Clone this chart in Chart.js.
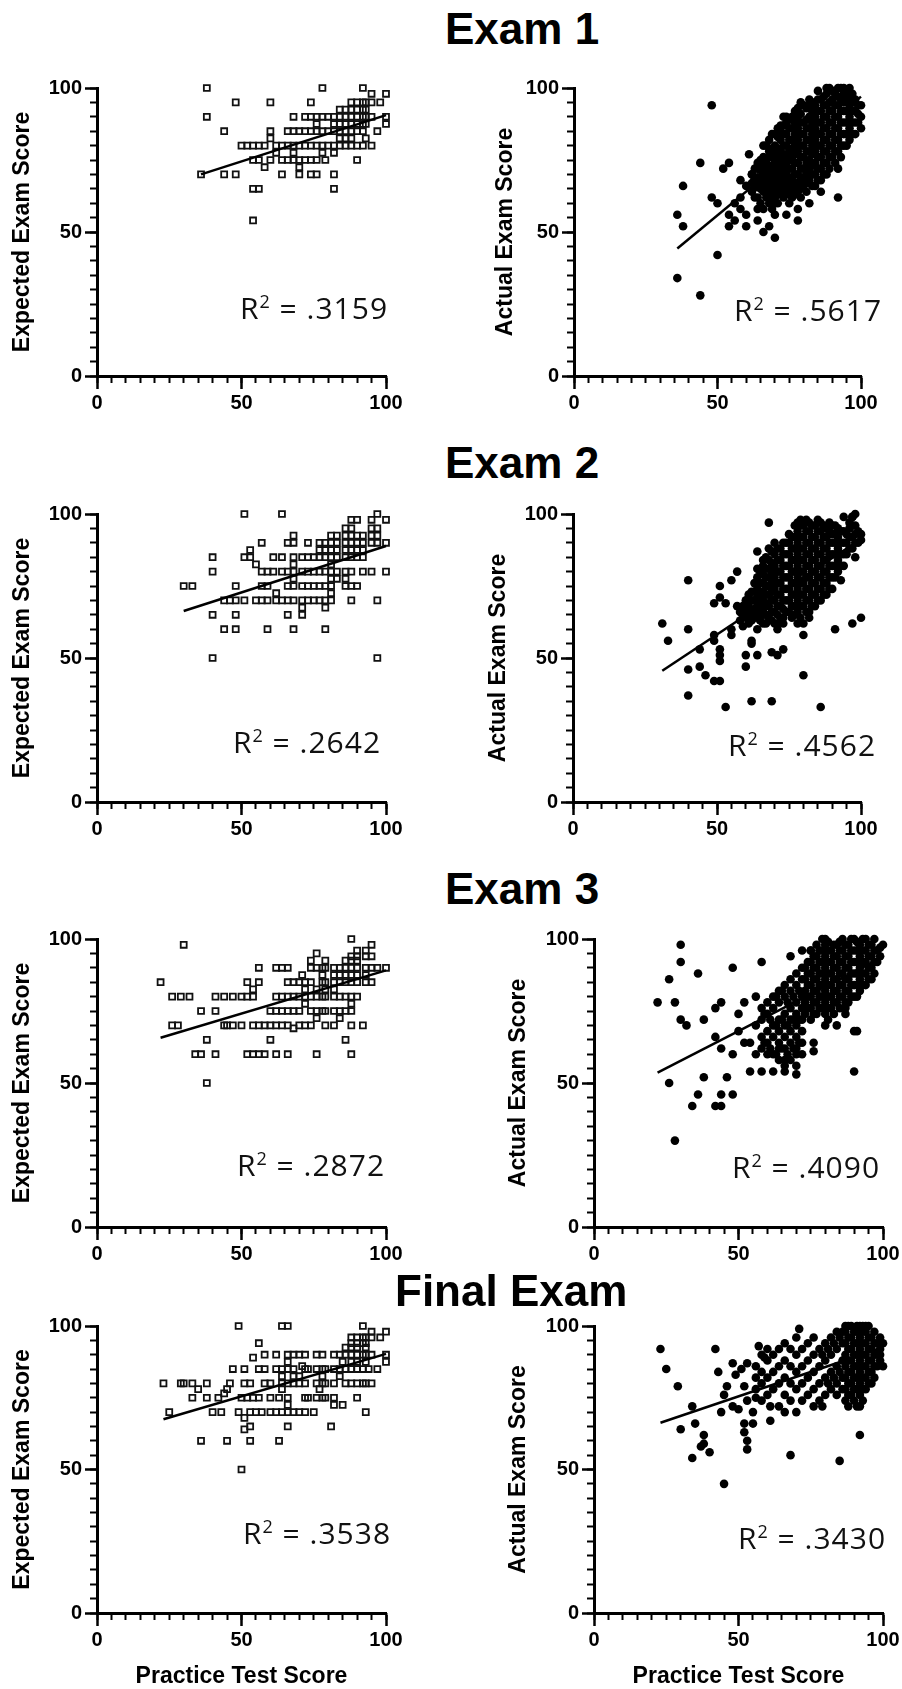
<!DOCTYPE html>
<html>
<head>
<meta charset="utf-8">
<script src="https://cdn.jsdelivr.net/npm/chart.js@4.4.0/dist/chart.umd.min.js"></script>
<style>
  body { margin: 0; background: #fff; }
  #page { position: relative; width: 902px; height: 1689px; overflow: hidden; background: #fff; }
  .panel { position: absolute; }
  .title { position: absolute; font: bold 44px "Liberation Sans", Arial, sans-serif; line-height: 44px; white-space: nowrap; color: #000; z-index: 2; }
  .rsq { position: absolute; font: 30px "Open Sans", sans-serif; line-height: 30px; letter-spacing: 1px; white-space: nowrap; color: #111; z-index: 2; }
  .rsq sup { font-size: 0.6em; line-height: 0; vertical-align: 0.62em; }
</style>
</head>
<body>
<div id="page"></div>
<script>
// ---- data ----
// left panels: [expected score, [practice scores...]]
const exam1ExpectedRows = [
  [100, [38, 78, 92]],
  [98, [95, 100]],
  [95, [48, 60, 74, 88, 90, 92, 93, 95, 98]],
  [92.5, [84, 86, 88, 90, 92, 93]],
  [90, [38, 68, 72, 74, 76, 78, 80, 82, 84, 86, 88, 90, 92, 93, 95, 100]],
  [87.5, [76, 82, 84, 86, 88, 90, 92, 93, 100]],
  [85, [44, 60, 66, 68, 70, 72, 74, 76, 78, 80, 82, 84, 86, 88, 90, 92, 97]],
  [82.5, [60, 84, 86, 88, 93]],
  [80, [50, 52, 54, 56, 58, 62, 64, 66, 68, 70, 72, 74, 76, 78, 80, 82, 84, 86, 88, 90, 92, 95]],
  [77.5, [62, 68, 78, 82]],
  [75, [54, 56, 60, 64, 66, 68, 70, 72, 74, 76, 79, 90]],
  [72.5, [58, 70]],
  [70, [36, 44, 48, 64, 70, 74, 76, 82]],
  [65, [54, 56, 82]],
  [54, [54]]
];
const exam2ExpectedRows = [
  [100, [51, 64, 97]],
  [98, [88, 90, 95, 100]],
  [95, [86, 88, 95, 97]],
  [92.5, [68, 81, 83, 86, 88, 90, 92, 95, 97]],
  [90, [57, 66, 68, 73, 77, 79, 81, 83, 86, 88, 90, 92, 95, 97, 100]],
  [87.5, [53, 77, 79, 81, 83, 86, 88, 90, 92]],
  [85, [40, 51, 53, 61, 64, 68, 71, 73, 75, 77, 79, 81, 83, 86, 88, 90, 92]],
  [82.5, [55, 68, 81]],
  [80, [40, 57, 59, 61, 64, 66, 68, 71, 73, 75, 77, 79, 81, 83, 86, 88, 92, 95, 100]],
  [77.5, [68, 81, 83, 86]],
  [75, [30, 33, 48, 57, 59, 66, 68, 71, 73, 75, 77, 79, 81, 86, 88, 90]],
  [72.5, [62, 81]],
  [70, [44, 46, 48, 51, 55, 57, 59, 62, 64, 66, 68, 71, 73, 75, 77, 79, 81, 88, 97]],
  [67.5, [71, 79]],
  [65, [40, 48, 66, 71]],
  [60, [44, 48, 59, 68, 79]],
  [50, [40, 97]]
];
const exam3ExpectedRows = [
  [100, [88]],
  [98, [30, 95]],
  [96, [90, 93]],
  [95, [76]],
  [94, [88, 90, 93, 95]],
  [92.5, [74, 79, 86, 88, 90]],
  [90, [56, 62, 64, 66, 74, 76, 78, 79, 82, 84, 86, 88, 90, 93, 95, 97, 100]],
  [87.5, [71, 78, 82, 84, 86, 88, 90, 93]],
  [85, [22, 52, 56, 66, 68, 70, 72, 74, 78, 79, 82, 84, 86, 88, 90, 93, 95]],
  [82.5, [54, 72, 76, 79, 82]],
  [80, [26, 29, 32, 41, 44, 47, 50, 52, 54, 62, 64, 66, 68, 70, 72, 74, 76, 78, 79, 82, 84, 86, 88, 90]],
  [77.5, [72, 88]],
  [75, [36, 41, 60, 62, 64, 66, 68, 70, 74, 76, 78, 79, 82, 84, 86, 88]],
  [72.5, [76, 84]],
  [70, [26, 28, 44, 45, 47, 50, 54, 56, 58, 60, 62, 64, 66, 70, 72, 74, 79, 82, 88, 92]],
  [69, [68]],
  [65, [38, 60, 86]],
  [60, [34, 36, 41, 52, 54, 56, 58, 62, 66, 76, 88]],
  [50, [38]]
];
const finalExpectedRows = [
  [100, [49, 64, 66, 92]],
  [98, [95, 100]],
  [96, [88, 90, 92, 93, 95, 98]],
  [94, [56, 88, 90, 92, 93]],
  [92.5, [86, 88, 90, 93]],
  [90, [58, 62, 66, 68, 70, 72, 76, 78, 82, 84, 86, 88, 90, 92, 93, 95, 100]],
  [89, [54]],
  [87.5, [66, 85, 88, 90, 93, 100]],
  [86, [71]],
  [85, [47, 51, 56, 58, 62, 64, 66, 68, 72, 73, 76, 78, 79, 82, 84, 86, 88, 90, 92, 94, 97]],
  [82.5, [64, 68, 70, 78, 84]],
  [80, [23, 29, 30, 33, 38, 46, 51, 53, 58, 60, 64, 66, 68, 70, 72, 76, 78, 79, 82, 86, 88, 90, 92, 93, 95]],
  [78, [35, 45, 64, 77]],
  [76.5, [44]],
  [75, [33, 38, 42, 50, 52, 54, 56, 60, 63, 66, 72, 73, 76, 78, 79, 82, 90]],
  [72.5, [66, 82, 85]],
  [70, [25, 40, 43, 49, 53, 55, 57, 60, 62, 64, 66, 68, 70, 72, 75, 93]],
  [68, [51]],
  [65, [53, 66, 81]],
  [64, [51]],
  [60, [36, 45, 53, 63]],
  [50, [50]]
];

// right panels: scattered points [practice, actual] and the dense cloud [practice, [actual...]]
const exam1ActualOut = [[48,94],[44,74],[38,66],[36,56],[38,52],[36,34],[44,28],[50,42],[48,62],[50,60],[52,72],[54,74],[54,56],[54,52],[56,54],[56,60],[58,58],[58,62],[60,56],[60,52],[58,68],[60,66],[61,77],[64,74],[62,70],[64,58],[64,54],[66,58],[66,50],[68,52],[70,48],[68,62],[70,60],[74,56],[78,58],[78,54],[70,56],[66,80],[68,76],[70,84],[74,90],[72,87],[80,94],[82,94],[88,100],[92,100],[94,100],[86,68],[86,64],[82,60],[92,72],[92,62],[100,86],[100,90],[100,94]];
const exam1ActualCloud = [
  [62, [64, 67, 70]], [63, [62, 65.5, 68.5, 72]], [64, [62, 66, 69, 72]], [65, [60, 65, 68, 71.5, 75]],
  [66, [64, 67, 70, 73, 76]], [67, [62, 65.5, 69, 72, 75, 80]],
  [68, [60, 64, 67, 70, 73, 78, 82]], [69, [58, 63, 66, 69.5, 72, 76, 79, 84]],
  [70, [62, 65, 68, 71, 74, 77, 80]], [71, [60, 64, 67, 70, 73, 76, 79, 83, 86]],
  [72, [63, 66, 69, 72, 75, 78, 82, 85]], [73, [62, 65, 68, 71, 74, 77, 80, 84, 87, 90]],
  [74, [64, 67, 70, 73, 76, 80, 84, 88]], [75, [60, 63, 66, 69, 72, 75, 78, 82, 86, 89]],
  [76, [62, 65, 68, 72, 76, 79, 82, 86, 90]], [77, [63, 66, 70, 74, 77, 80, 84, 88, 92]],
  [78, [64, 67, 70, 74, 78, 82, 86, 90, 93]], [79, [62, 65, 68, 72, 76, 80, 84, 88, 91, 95]],
  [80, [66, 69, 72, 76, 80, 84, 88]], [81, [64, 67, 70, 74, 78, 82, 86, 89, 93]],
  [82, [68, 72, 75, 78, 82, 86, 90, 96]], [83, [66, 70, 73, 77, 80, 84, 88, 92, 95]],
  [84, [66, 70, 74, 78, 82, 86, 90, 94]], [85, [68, 72, 76, 80, 84, 88, 92, 96, 99]],
  [86, [72, 76, 80, 84, 88, 92, 96]], [87, [70, 74, 78, 82, 86, 90, 94, 97]],
  [88, [70, 74, 78, 82, 86, 90, 94, 98]], [89, [72, 76, 80, 84, 88, 92, 95, 100]],
  [90, [76, 80, 84, 88, 92, 96, 99]], [91, [74, 78, 82, 86, 90, 94, 98]],
  [92, [78, 82, 86, 90, 94, 97]], [93, [76, 80, 84, 88, 92, 96, 100]],
  [94, [80, 84, 88, 92, 95, 98]], [95, [80, 84, 88, 92, 96, 99]],
  [96, [82, 86, 90, 94, 97, 100]], [97, [84, 88, 92, 95, 98]],
  [98, [84, 88, 92, 96]], [99, [88, 91, 94]]
];
const exam2ActualOut = [[31,62],[33,56],[40,77],[40,60],[40,46],[40,37],[44,53],[44,47],[46,44],[49,42],[51,42],[49,58],[49,56],[51,53],[51,51],[51,49],[49,69],[51,75],[53,69],[51,71],[53,33],[55,77],[57,80],[57,68],[55,60],[55,58],[60,47],[60,51],[62,35],[62,56],[62,55],[64,51],[64,60],[64,87],[66,84],[66,65],[68,97],[68,88],[69,35],[69,52],[71,51],[73,53],[73,62],[71,60],[80,44],[80,58],[82,64],[78,62],[86,33],[91,60],[97,62],[100,64],[93,77],[94,99],[97,99],[96,97],[98,85],[100,91],[100,93]];
const exam2ActualCloud = [
  [58, [63, 66]], [59, [61, 65, 68]], [60, [64, 67, 70]], [61, [62, 65, 68, 72]],
  [62, [63, 66, 70, 73]], [63, [64, 67, 70, 73, 76]],
  [64, [65, 68, 71, 74, 78, 81]], [65, [63, 66, 69, 72, 76, 80]],
  [66, [62, 67, 70, 73, 76, 79, 82]], [67, [62, 65, 69, 72, 75, 78, 81, 85]],
  [68, [64, 68, 72, 75, 78, 81, 84]], [69, [63, 66, 70, 73, 76, 80, 83, 87]],
  [70, [62, 66, 70, 74, 78, 82, 86, 90]], [71, [62, 65, 68, 72, 76, 80, 84, 88]],
  [72, [64, 68, 72, 76, 80, 84, 88]], [73, [64, 67, 70, 74, 78, 82, 86, 90]],
  [74, [66, 70, 74, 78, 82, 86, 90]], [75, [66, 70, 74, 78, 82, 86, 90, 93]],
  [76, [64, 68, 72, 76, 80, 84, 88, 92]], [77, [65, 68, 72, 76, 80, 84, 88, 92, 96]],
  [78, [66, 70, 74, 78, 82, 86, 90, 94, 97]], [79, [64, 68, 72, 76, 80, 84, 88, 92, 96, 98]],
  [80, [62, 68, 72, 76, 80, 84, 88, 92, 96]], [81, [66, 70, 74, 78, 82, 86, 90, 94, 98]],
  [82, [66, 70, 74, 78, 82, 86, 90, 94, 97]], [83, [68, 72, 76, 80, 84, 88, 92, 96]],
  [84, [68, 72, 76, 80, 84, 88, 92, 96]], [85, [70, 74, 78, 82, 86, 90, 94, 98]],
  [86, [70, 74, 78, 82, 86, 90, 94, 97]], [87, [72, 76, 80, 84, 88, 92, 96]],
  [88, [72, 76, 80, 84, 88, 92, 95]], [89, [74, 78, 82, 86, 90, 94, 97]],
  [90, [74, 78, 82, 86, 90, 93, 96]], [91, [78, 82, 86, 90, 93, 96]],
  [92, [80, 84, 88, 92, 95]], [93, [82, 86, 90, 94]], [94, [82, 86, 90, 94]],
  [95, [86, 90, 93]], [96, [88, 92, 95]], [97, [88, 92, 96, 99]], [98, [90, 93, 96, 100]], [99, [90, 94]]
];
const exam3ActualOut = [[22,78],[26,86],[26,50],[28,78],[28,30],[30,98],[30,92],[30,72],[32,70],[36,88],[38,72],[38,52],[36,46],[34,42],[42,66],[42,76],[44,78],[44,62],[42,42],[44,42],[44,46],[46,52],[48,46],[48,60],[48,90],[50,74],[50,68],[52,78],[52,64],[54,64],[54,54],[56,60],[58,92],[58,54],[56,80],[56,70],[60,60],[62,54],[66,54],[70,53],[70,60],[66,58],[64,64],[68,94],[76,64],[76,61],[80,70],[84,70],[87,76],[87,74],[90,68],[91,68],[90,54],[80,100],[94,100],[100,98],[72,96],[75,96]];
const exam3ActualCloud = [
  [58, [62, 66, 72, 76]], [59, [64, 74]], [60, [64, 68, 74, 78]], [61, [62, 72]],
  [62, [60, 66, 70, 76, 80]], [63, [60, 70, 80]],
  [64, [58, 62, 68, 72, 78, 82]], [65, [62, 72, 82]],
  [66, [56, 62, 66, 70, 74, 80, 84]], [67, [60, 70, 78]],
  [68, [58, 64, 68, 72, 76, 82, 86]], [69, [62, 72, 80]],
  [70, [56, 62, 66, 70, 74, 78, 84, 88]], [71, [64, 72, 82]],
  [72, [60, 64, 68, 72, 76, 80, 86, 90]], [73, [74, 78, 82, 86, 90]],
  [74, [76, 80, 84, 88, 92]], [75, [72, 76, 80, 84, 88, 92, 96]],
  [76, [74, 78, 82, 86, 90, 94]], [77, [74, 78, 82, 86, 90, 94, 98]],
  [78, [76, 80, 84, 88, 92, 96]], [79, [76, 80, 84, 88, 92, 96, 100]],
  [80, [74, 78, 82, 86, 90, 94, 98]], [81, [72, 76, 80, 84, 88, 92, 96, 99]],
  [82, [76, 80, 84, 88, 92, 96]], [83, [74, 78, 82, 86, 90, 94, 98]],
  [84, [78, 82, 86, 90, 94, 98]], [85, [76, 80, 84, 88, 92, 96, 99]],
  [86, [80, 84, 88, 92, 96, 100]], [87, [78, 82, 86, 90, 94, 98]],
  [88, [78, 82, 86, 90, 94, 98]], [89, [80, 84, 88, 92, 96, 100]],
  [90, [80, 84, 88, 92, 96, 100]], [91, [80, 84, 88, 92, 96, 99]],
  [92, [82, 86, 90, 94, 98]], [93, [84, 88, 92, 96, 100]],
  [94, [84, 88, 92, 96]], [95, [86, 90, 94, 98]], [96, [86, 90, 94, 98]],
  [97, [88, 92, 96, 100]], [98, [92, 96]], [99, [94, 97]]
];
const finalActualOut = [[23,92],[25,85],[29,79],[30,64],[34,72],[34,54],[35,66],[38,62],[37,58],[38,59],[40,56],[42,92],[43,84],[44,70],[45,45],[45,76],[46,79],[48,87],[49,83],[48,72],[50,71],[51,85],[53,87],[52,66],[52,79],[52,63],[53,60],[53,57],[55,66],[55,70],[53,74],[56,75],[57,93],[59,89],[61,67],[61,72],[68,55],[71,99],[85,53],[92,62],[88,72],[92,72],[100,86],[99,90],[100,94],[87,100],[91,100],[94,100]];
const finalActualCloud = [
  [56, [78, 82, 86]], [58, [74, 80, 84, 90]], [60, [76, 82, 88, 92]], [62, [78, 84, 90]],
  [64, [72, 80, 86, 92]], [66, [70, 76, 82, 88, 94]], [68, [74, 80, 86, 92]],
  [70, [70, 78, 84, 90, 96]], [72, [74, 80, 86, 92]], [74, [76, 82, 88, 94]],
  [76, [72, 78, 84, 90, 96]], [78, [74, 80, 86, 92]], [79, [72, 90]], [80, [76, 82, 88, 94]],
  [81, [80, 92]], [82, [78, 84, 90, 96]], [83, [82, 94]], [84, [76, 80, 86, 92, 98]], [85, [84, 96]],
  [86, [78, 82, 88, 94, 98]], [87, [74, 78, 82, 86, 90, 94, 98]],
  [88, [76, 80, 84, 88, 92, 96, 100]], [89, [76, 80, 84, 88, 92, 96, 100]],
  [90, [74, 78, 82, 86, 90, 94, 98]], [91, [72, 78, 82, 86, 90, 94, 98]],
  [92, [76, 80, 84, 88, 92, 96, 100]], [93, [74, 78, 82, 86, 90, 94, 98, 100]],
  [94, [78, 82, 86, 90, 94, 98]], [95, [80, 84, 88, 92, 96, 100]],
  [96, [80, 84, 88, 92, 96]], [97, [82, 86, 90, 94, 98]], [98, [86, 90, 94]], [99, [88, 92, 96]]
];

// regression lines, end points [x, y]
const exam1ExpectedFit = [[36, 70], [100, 90.6]];
const exam1ActualFit = [[36, 44.3], [100, 97]];
const exam2ExpectedFit = [[30, 66.3], [100, 88.9]];
const exam2ActualFit = [[31, 45.6], [100, 91.3]];
const exam3ExpectedFit = [[22, 65.7], [100, 89.1]];
const exam3ActualFit = [[22, 53.6], [100, 93.8]];
const finalExpectedFit = [[23, 67.5], [100, 90.3]];
const finalActualFit = [[23, 66.3], [100, 92.5]];

const examTitles = ['Exam 1', 'Exam 2', 'Exam 3', 'Final Exam'];
const rSquared = ['.3159', '.5617', '.2642', '.4562', '.2872', '.4090', '.3538', '.3430'];

// ---- helpers ----
function fromRows(rows) {
  const out = [];
  rows.forEach(r => r[1].forEach(x => out.push({x: x, y: r[0]})));
  return out;
}
function fromCols(out, cols) {
  const pts = out.map(p => ({x: p[0], y: p[1]}));
  cols.forEach(c => c[1].forEach(y => pts.push({x: c[0], y: y})));
  return pts;
}
function pairs(arr) {
  return arr.map(p => ({x: p[0], y: p[1]}));
}

const page = document.getElementById('page');
const FONT = '"Liberation Sans", Arial, sans-serif';

// plot box positions (left/top of the axes area, in page pixels)
const panels = [
  {pts: fromRows(exam1ExpectedRows), fit: exam1ExpectedFit, open: true, yTitle: 'Expected Exam Score', left: 97, top: 88, w: 289, h: 288, yW: 97, titleX: 23, r2: [240, 298]},
  {pts: fromCols(exam1ActualOut, exam1ActualCloud), fit: exam1ActualFit, open: false, yTitle: 'Actual Exam Score', left: 574, top: 88, w: 287, h: 288, yW: 90, titleX: 506, r2: [734, 300]},
  {pts: fromRows(exam2ExpectedRows), fit: exam2ExpectedFit, open: true, yTitle: 'Expected Exam Score', left: 97, top: 514, w: 289, h: 288, yW: 97, titleX: 23, r2: [233, 732]},
  {pts: fromCols(exam2ActualOut, exam2ActualCloud), fit: exam2ActualFit, open: false, yTitle: 'Actual Exam Score', left: 573, top: 514, w: 288, h: 288, yW: 90, titleX: 499, r2: [728, 735]},
  {pts: fromRows(exam3ExpectedRows), fit: exam3ExpectedFit, open: true, yTitle: 'Expected Exam Score', left: 97, top: 939, w: 289, h: 288, yW: 97, titleX: 23, r2: [237, 1155]},
  {pts: fromCols(exam3ActualOut, exam3ActualCloud), fit: exam3ActualFit, open: false, yTitle: 'Actual Exam Score', left: 594, top: 939, w: 289, h: 288, yW: 90, titleX: 519, r2: [732, 1157]},
  {pts: fromRows(finalExpectedRows), fit: finalExpectedFit, open: true, yTitle: 'Expected Exam Score', left: 97, top: 1326, w: 289, h: 287, yW: 97, titleX: 23, r2: [243, 1523], xTitle: true},
  {pts: fromCols(finalActualOut, finalActualCloud), fit: finalActualFit, open: false, yTitle: 'Actual Exam Score', left: 594, top: 1326, w: 289, h: 287, yW: 90, titleX: 519, r2: [738, 1528], xTitle: true}
];

// title positions [left, cap top]
const titlePos = [[445, 13], [445, 447], [445, 873], [395, 1275]];

function axisSet(p, xH) {
  const tickFont = {family: FONT, size: 20, weight: 'bold'};
  return {
    x: {
      type: 'linear', position: 'bottom', min: 0, max: 100, weight: 1,
      border: {color: '#000', width: 3},
      grid: {drawOnChartArea: false, tickLength: 13, tickWidth: 2.5, tickColor: '#000'},
      ticks: {stepSize: 50, padding: 2, color: '#000', font: tickFont, maxRotation: 0, autoSkip: false},
      title: {display: !!p.xTitle, text: 'Practice Test Score', color: '#000',
              font: {family: FONT, size: 23, weight: 'bold', lineHeight: 1}, padding: {top: 0, bottom: 0}},
      afterFit: s => { s.height = xH; s.paddingLeft = 0; s.paddingRight = 0; }
    },
    xMinor: {
      type: 'linear', position: 'bottom', min: 0, max: 100, weight: 0,
      border: {display: false},
      grid: {drawOnChartArea: false, tickLength: 7, tickWidth: 2, tickColor: '#000'},
      ticks: {stepSize: 5, display: false},
      afterFit: s => { s.height = 0; s.paddingLeft = 0; s.paddingRight = 0; }
    },
    y: {
      type: 'linear', position: 'left', min: 0, max: 100, weight: 1,
      border: {color: '#000', width: 3},
      grid: {drawOnChartArea: false, tickLength: 12, tickWidth: 2.5, tickColor: '#000'},
      ticks: {stepSize: 50, padding: 3, color: '#000', font: tickFont},
      title: {display: true, text: p.yTitle, color: '#000',
              font: {family: FONT, size: 23, weight: 'bold', lineHeight: 1},
              padding: {top: p.titleX - (p.left - p.yW) - 11.5, bottom: 0}},
      afterFit: s => { s.width = p.yW; s.paddingTop = 0; s.paddingBottom = 0; }
    },
    yMinor: {
      type: 'linear', position: 'left', min: 0, max: 100, weight: 0,
      border: {display: false},
      grid: {drawOnChartArea: false, tickLength: 7, tickWidth: 2, tickColor: '#000'},
      ticks: {stepSize: 5, display: false},
      afterFit: s => { s.width = 0; s.paddingTop = 0; s.paddingBottom = 0; }
    }
  };
}

function draw(p, i) {
  const padTop = 20;
  const padRight = p.yW === 97 ? 25 : 18;
  const xH = p.xTitle ? 75 : 40;
  const cw = p.yW + p.w + padRight;
  const ch = padTop + p.h + xH;

  const box = document.createElement('div');
  box.className = 'panel';
  box.style.left = (p.left - p.yW) + 'px';
  box.style.top = (p.top - padTop) + 'px';
  const cv = document.createElement('canvas');
  cv.width = cw; cv.height = ch;
  cv.style.width = cw + 'px'; cv.style.height = ch + 'px';
  box.appendChild(cv);
  page.appendChild(box);

  new Chart(cv.getContext('2d'), {
    type: 'scatter',
    data: {
      datasets: [
        {
          data: pairs(p.fit), showLine: true, pointRadius: 0,
          borderColor: '#000', borderWidth: 2.5, clip: false
        },
        {
          data: p.pts, clip: false,
          pointStyle: p.open ? 'rect' : 'circle',
          pointRadius: p.open ? 4.2 : 4.3,
          borderWidth: p.open ? 1.8 : 0,
          borderColor: '#111',
          backgroundColor: p.open ? 'rgba(255,255,255,0)' : '#000'
        }
      ]
    },
    options: {
      responsive: false, animation: false, devicePixelRatio: 1,
      layout: {padding: {top: padTop, right: padRight, left: 0, bottom: 0}},
      plugins: {legend: {display: false}, tooltip: {enabled: false}},
      scales: axisSet(p, xH)
    }
  });

  // R squared note
  const r = document.createElement('div');
  r.className = 'rsq';
  r.style.left = p.r2[0] + 'px';
  r.style.top = (p.r2[1] - 5) + 'px';
  r.innerHTML = 'R<sup>2</sup> = ' + rSquared[i];
  page.appendChild(r);
}

panels.forEach(draw);

examTitles.forEach((t, i) => {
  const d = document.createElement('div');
  d.className = 'title';
  d.style.left = titlePos[i][0] + 'px';
  d.style.top = (titlePos[i][1] - 5.7) + 'px';
  d.textContent = t;
  page.appendChild(d);
});
</script>
</body>
</html>
